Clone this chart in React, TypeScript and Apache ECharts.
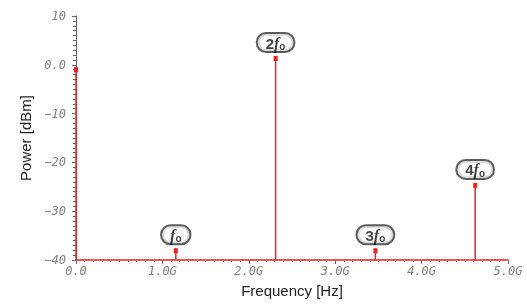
import React, { useEffect, useRef } from "react";
import * as echarts from "echarts";

const freqGHz = [0, 1.155, 2.31, 3.465, 4.62];
const powerDbm = [-0.5, -37.6, 1.8, -37.6, -24.2];
const harmonicLabels = ["", "f", "2f", "3f", "4f"];
const yTicks = [10, 0, -10, -20, -30, -40];

const RED = "#ff1a1a";
const GRAY = "#666";

export default function App() {
  const ref = useRef<HTMLDivElement>(null);
  useEffect(() => {
    if (!ref.current) return;
    const chart = echarts.init(ref.current, undefined, { renderer: "svg" });
    const stems = freqGHz.map((f, i) => [f, powerDbm[i]]);
    const labelPts = freqGHz
      .map((f, i) => ({ value: [f, powerDbm[i]], name: harmonicLabels[i] }))
      .filter((d) => d.name !== "");
    const tickFont = {
      fontFamily: "DejaVu Sans Mono",
      fontStyle: "italic" as const,
      fontSize: 12,
      color: "#808080",
    };
    chart.setOption({
      animation: false,
      grid: { left: 76, right: 19, top: 16, bottom: 46 },
      xAxis: {
        type: "value",
        min: 0,
        max: 5,
        interval: 1,
        name: "Frequency [Hz]",
        nameLocation: "middle",
        nameGap: 23,
        nameTextStyle: { fontFamily: "Liberation Sans", fontSize: 15, color: "#222" },
        axisLine: { onZero: false, lineStyle: { color: RED, width: 1.5 } },
        axisTick: { show: true, length: 4, lineStyle: { color: GRAY } },
        minorTick: { show: true, splitNumber: 10, length: 2, lineStyle: { color: GRAY } },
        splitLine: { show: false },
        axisLabel: {
          ...tickFont,
          margin: 5,
          formatter: (v: number) => (v === 0 ? "0.0" : v.toFixed(1) + "G"),
        },
      },
      yAxis: {
        type: "value",
        min: -40,
        max: 10,
        interval: 10,
        name: "Power [dBm]",
        nameLocation: "middle",
        nameGap: 40,
        nameTextStyle: { fontFamily: "Liberation Sans", fontSize: 15, color: "#222" },
        axisLine: { onZero: false, lineStyle: { color: GRAY, width: 1 } },
        axisTick: { show: true, length: 4, lineStyle: { color: GRAY } },
        minorTick: { show: true, splitNumber: 10, length: 3, lineStyle: { color: GRAY } },
        splitLine: { show: false },
        axisLabel: {
          ...tickFont,
          margin: 10,
          formatter: (v: number) =>
            yTicks.includes(v) ? (v === 0 ? "0.0" : v < 0 ? "\u2212" + Math.abs(v) : String(v)) : "",
        },
      },
      series: [
        {
          type: "custom",
          data: stems,
          z: 5,
          renderItem: (params: any, api: any) => {
            const x = api.value(0);
            const y = api.value(1);
            const top = api.coord([x, y]);
            const base = api.coord([x, -40]);
            return {
              type: "group",
              children: [
                {
                  type: "line",
                  shape: { x1: top[0], y1: top[1], x2: base[0], y2: base[1] },
                  style: { stroke: RED, lineWidth: 1.5 },
                },
                {
                  type: "rect",
                  shape: { x: top[0] - 2, y: top[1], width: 4, height: 5 },
                  style: { fill: RED },
                },
              ],
            };
          },
        },
        {
          type: "scatter",
          data: labelPts,
          symbolSize: 0,
          z: 6,
          label: {
            show: true,
            position: "top",
            distance: 5,
            formatter: (p: any) => {
              const n = p.name as string;
              const pre = n.slice(0, -1);
              return (pre ? "{n|" + pre + "}" : "") + "{f|f}{o|o}";
            },
            backgroundColor: "#fff",
            borderColor: "#333",
            borderWidth: 2,
            borderRadius: 10,
            padding: [1, 8, 0, 8],
            rich: {
              n: { fontFamily: "Liberation Sans", fontWeight: "bold", fontSize: 15, color: "#111", lineHeight: 16 },
              f: { fontFamily: "Liberation Serif", fontStyle: "italic", fontWeight: "bold", fontSize: 16, color: "#111", lineHeight: 16 },
              o: { fontFamily: "Liberation Sans", fontWeight: "bold", fontSize: 10, color: "#111", lineHeight: 16, padding: [7, 0, 0, 0] },
            },
          },
        },
      ],
    });
    return () => chart.dispose();
  }, []);
  return (
    <div
      ref={ref}
      style={{ position: "fixed", left: 0, top: 0, width: 527, height: 306 }}
    />
  );
}
